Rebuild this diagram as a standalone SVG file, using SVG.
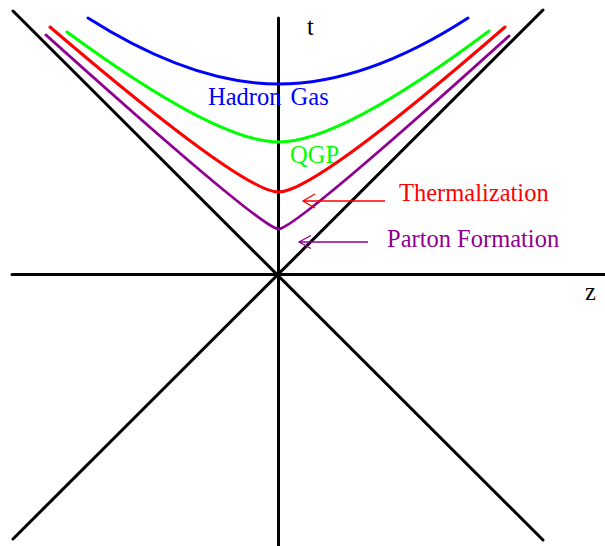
<svg xmlns="http://www.w3.org/2000/svg" width="605" height="546" viewBox="0 0 605 546">
<style>
.ax{stroke:#000;stroke-width:3;fill:none;stroke-linecap:round}
.cv{stroke-width:3;fill:none;stroke-linecap:round}
.lbl{font-family:"Liberation Serif","Times New Roman",serif;font-size:24.5px}
.arr{stroke-width:1.3;fill:none}
</style>
<rect width="605" height="546" fill="#fff"/>
<g id="axes">
<line class="ax" x1="278.5" y1="18" x2="278.5" y2="546"/>
<line class="ax" x1="12" y1="274.5" x2="605" y2="274.5"/>
<line class="ax" x1="13" y1="11" x2="543" y2="540"/>
<line class="ax" x1="543" y1="10" x2="13" y2="539"/>
</g>
<g id="hadron-gas">
<path class="cv" stroke="#0000ff" d="M88,18 Q192,84 278.5,84 Q366,84 468,18"/>
<text class="lbl" fill="#0000ff" x="208" y="105" word-spacing="3">Hadron Gas</text>
</g>
<g id="qgp">
<path class="cv" stroke="#00ff00" d="M67,32 Q217,142 278.5,142 Q341,142 489,31"/>
<text class="lbl" fill="#00ff00" x="290" y="163">QGP</text>
</g>
<g id="thermalization">
<path class="cv" stroke="#ff0000" d="M50,27 Q243,192 278.5,192 Q315,192 505,27"/>
<text class="lbl" fill="#ff0000" x="399" y="201">Thermalization</text>
</g>
<g id="parton-formation">
<path class="cv" stroke="#900090" d="M46,35 Q262,229 278.5,229 Q295,229 509,36"/>
<text class="lbl" fill="#900090" x="387" y="247">Parton Formation</text>
</g>
<g id="axis-labels">
<text class="lbl" x="307" y="35">t</text>
<text class="lbl" x="585" y="300">z</text>
</g>
<g id="connectors">
<path class="arr" stroke="#ff0000" d="M385,201 L303,201 M315,194 L303,201 L315,208"/>
<path class="arr" stroke="#900090" d="M368,242 L299,242 M311,235.5 L299,242 L311,248.5"/>
</g>
</svg>
